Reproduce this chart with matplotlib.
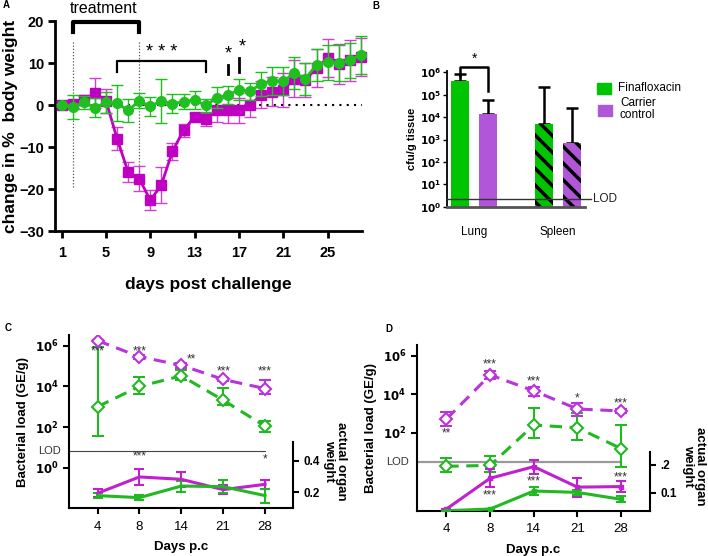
import numpy as np
import matplotlib
matplotlib.use("Agg")
import matplotlib.pyplot as plt

plt.rcParams['font.family'] = ['Liberation Sans', 'DejaVu Sans']
plt.rcParams['hatch.linewidth'] = 2.5

GREEN = '#1fbf1f'
MAG = '#c000c0'
BGREEN = '#00c400'
VIOLET = '#b155d9'
CVIOLET = '#bb33dd'

# ---- panel A: body weight
days = np.arange(1, 29)
carrier_wt = [0, 0.3, 1.2, 2.8, 1.0, -8.0, -16.0, -17.5, -22.7, -19.0, -11.0, -6.0, -2.8, -3.4,
              -1.2, -1.3, -1.3, 0.0, 2.4, 3.2, 3.6, 6.3, 6.0, 8.8, 11.2, 9.7, 10.6, 11.5]
carrier_err = [0.3, 1.0, 1.2, 3.6, 2.8, 2.7, 2.4, 3.0, 2.4, 4.3, 2.0, 1.5, 1.0, 1.6,
               2.8, 3.0, 3.0, 2.8, 3.2, 3.5, 4.0, 4.5, 4.0, 4.5, 4.5, 4.8, 4.8, 4.5]
fina_wt = [0, -0.5, 0.6, -0.6, 0.6, 0.4, -1.3, 1.0, -0.3, 1.0, 0.3, 0.8, 1.2, -0.1,
           1.7, 2.4, 3.6, 3.3, 5.0, 5.8, 5.7, 7.6, 6.3, 9.6, 10.2, 10.0, 10.6, 12.0]
fina_err = [0.3, 2.8, 1.6, 2.2, 2.5, 4.3, 2.7, 1.8, 2.3, 5.3, 2.3, 1.8, 2.2, 1.6,
            2.5, 2.2, 2.5, 2.0, 2.8, 3.3, 3.3, 3.8, 3.8, 3.8, 4.2, 4.2, 4.2, 4.5]

# ---- panel B: cfu per organ
organs = ['Lung', 'Spleen']
cfu_fina = [4.2e5, 4.7e3]
cfu_fina_top = [8e5, 2.2e5]
cfu_carrier = [1.4e4, 7e2]
cfu_carrier_top = [6e4, 2.5e4]
lod_b = 2.2

# ---- panels C and D
days_pc = ['4', '8', '14', '21', '28']
c_load_carrier = [1.8e6, 2.9e5, 1.1e5, 2.2e4, 7.8e3]
c_load_carrier_lo = [1.7e6, 2.3e5, 8e4, 1.8e4, 4e3]
c_load_carrier_hi = [1.9e6, 3.6e5, 1.4e5, 2.6e4, 2e4]
c_load_fina = [1.0e3, 1.0e4, 3.3e4, 2.1e3, 1.1e2]
c_load_fina_lo = [38, 4e3, 2e4, 1.2e3, 56]
c_load_fina_hi = [9e5, 3e4, 6.3e4, 8e3, 2e2]
c_wt_carrier = [0.194, 0.298, 0.283, 0.217, 0.251]
c_wt_carrier_err = [0.025, 0.05, 0.048, 0.03, 0.03]
c_wt_fina = [0.179, 0.166, 0.24, 0.236, 0.179]
c_wt_fina_err = [0.015, 0.015, 0.035, 0.04, 0.045]

d_load_carrier = [510, 1e5, 1.5e4, 1.7e3, 1.35e3]
d_load_carrier_lo = [220, 6.3e4, 8.5e3, 740, 1.1e3]
d_load_carrier_hi = [1.2e3, 1.6e5, 2.5e4, 3.6e3, 1.7e3]
d_load_fina = [1.8, 2.0, 250, 180, 15]
d_load_fina_lo = [0.93, 0.93, 55, 40, 1.6]
d_load_fina_hi = [4.7, 5.9, 1.9e3, 1e3, 250]
d_wt_carrier = [0.041, 0.152, 0.194, 0.12, 0.122]
d_wt_carrier_err = [0.0, 0.032, 0.025, 0.034, 0.021]
d_wt_fina = [0.035, 0.041, 0.106, 0.101, 0.076]
d_wt_fina_err = [0.0, 0.0, 0.014, 0.01, 0.011]

fig = plt.figure(figsize=(7.08, 5.56), dpi=100)

def px(x, y):
    return x / 708, 1 - y / 556

# ================= A
ax = fig.add_axes([0.0777, 0.5845, 0.4336, 0.3777])
ax.errorbar(days, carrier_wt, yerr=carrier_err, color=MAG, marker='s', ms=6.5, lw=2,
            elinewidth=1, capsize=4, ecolor='#d040d0', clip_on=False, zorder=3)
ax.errorbar(days, fina_wt, yerr=fina_err, color=GREEN, marker='o', ms=7, lw=2,
            elinewidth=1, capsize=4, clip_on=False, zorder=4)
ax.axhline(0, color='black', ls=(0, (1, 2.5)), lw=1.5, zorder=1)
ax.set_xlim(0.4, 28.1)
ax.set_ylim(-30, 20)
ax.set_xticks([1, 5, 9, 13, 17, 21, 25])
ax.set_yticks([-30, -20, -10, 0, 10, 20])
for s in ['top', 'right']:
    ax.spines[s].set_visible(False)
for s in ['left', 'bottom']:
    ax.spines[s].set_linewidth(2)
ax.tick_params(width=2, length=5, labelsize=10.5, pad=3)
ax.tick_params(axis='x', pad=6)
for lab in ax.get_xticklabels() + ax.get_yticklabels():
    lab.set_fontweight('bold')
ax.set_ylabel('change in %  body weight', fontsize=12.5, fontweight='bold', labelpad=1)
ax.set_xlabel('days post challenge', fontsize=12.5, fontweight='bold', labelpad=12)
# annotations
ax.text(4.8, 23.0, 'treatment', ha='center', va='center', fontsize=11.5, clip_on=False)
ax.plot([2, 2, 8, 8], [17.3, 19.8, 19.8, 17.3], color='black', lw=3, clip_on=False)
ax.plot([2, 2], [-19.6, 15.2], color='#555555', ls=(0, (1, 1.5)), lw=0.9)
ax.plot([8, 8], [-19.6, 15.2], color='#555555', ls=(0, (1, 1.5)), lw=0.9)
ax.plot([6, 6, 14, 14], [7.9, 10.5, 10.5, 7.9], color='black', lw=1.6)
ax.text(10, 12.6, '* * *', ha='center', va='center', fontsize=13)
ax.plot([16, 16], [7.4, 9.5], color='black', lw=2)
ax.text(16, 12.2, '*', ha='center', va='center', fontsize=13)
ax.plot([17, 17], [7.8, 11.2], color='black', lw=2)
ax.text(17.3, 13.9, '*', ha='center', va='center', fontsize=13)
fig.text(*px(3, 5), 'A', fontsize=7, fontweight='bold', va='center')

# ================= B
bx = fig.add_axes([0.631, 0.628, 0.1953, 0.2446])
pos_f = np.array([0, 3])
pos_c = pos_f + 1
w = 0.65
bx.bar(pos_f, cfu_fina, width=w, color=BGREEN, edgecolor='black', linewidth=0,
       hatch=['', '\\\\'], zorder=2)
bx.bar(pos_c, cfu_carrier, width=w, color=VIOLET, edgecolor='black', linewidth=0,
       hatch=['', '\\\\'], zorder=2)
bx.errorbar(pos_f, cfu_fina, yerr=[np.zeros(2), np.array(cfu_fina_top) - np.array(cfu_fina)],
            fmt='none', ecolor='black', elinewidth=1.8, capsize=4, capthick=1.8, zorder=1)
bx.errorbar(pos_c, cfu_carrier, yerr=[np.zeros(2), np.array(cfu_carrier_top) - np.array(cfu_carrier)],
            fmt='none', ecolor='black', elinewidth=1.8, capsize=4, capthick=1.8, zorder=1)
bx.set_yscale('log')
bx.set_ylim(1, 1.15e6)
bx.set_xlim(-0.475, 4.46)
bx.axhline(lod_b, xmin=0, xmax=1.04, color='#333333', lw=1, clip_on=False, zorder=3)
bx.text(4.75, lod_b, 'LOD', ha='left', va='center', fontsize=8.5, color='#222222')
bx.set_yticks([10.0 ** k for k in range(7)])
bx.set_yticklabels([r'$\mathbf{10^{%d}}$' % k for k in range(7)], fontsize=7.5)
bx.tick_params(axis='y', which='major', length=3, width=1, pad=1)
bx.tick_params(axis='y', which='minor', length=1.5, width=0.6)
bx.set_xticks([0.5, 3.5])
bx.set_xticklabels(organs, fontsize=8.5)
bx.tick_params(axis='x', length=0, pad=14)
for s in ['top', 'right']:
    bx.spines[s].set_visible(False)
bx.spines['left'].set_linewidth(1.3)
bx.spines['bottom'].set_linewidth(2)
bx.spines['bottom'].set_color('#555555')
bx.set_ylabel('cfu/g tissue', fontsize=8, fontweight='bold', labelpad=2)
bx.plot([0, 0, 1, 1], [7e5, 1.7e6, 1.7e6, 1.4e5], color='black', lw=1.8, clip_on=False)
bx.text(0.5, 4e6, '*', ha='center', va='center', fontsize=10)
lx, ly = px(597, 88)
fig.patches.append(plt.Rectangle((lx, ly - 0.011), 0.02, 0.02, color=BGREEN,
                                 transform=fig.transFigure, figure=fig))
fig.text(*px(618, 88), 'Finafloxacin', fontsize=8.5, va='center')
lx, ly = px(598, 110)
fig.patches.append(plt.Rectangle((lx, ly - 0.011), 0.02, 0.02, color=VIOLET,
                                 transform=fig.transFigure, figure=fig))
fig.text(*px(620, 109), 'Carrier\ncontrol', fontsize=8.5, va='center', linespacing=1.1)
fig.text(*px(372, 6), 'B', fontsize=7, fontweight='bold', va='center')


def load_panel(rect, load_c, lo_c, hi_c, load_f, lo_f, hi_f, wt_c, wt_ce, wt_f, wt_fe,
               ylim, lod, yt, twin_lim, twin_bounds, twin_ticks, twin_labels, lod_color, lod_lw,
               sq):
    a = fig.add_axes(rect)
    x = np.arange(len(days_pc))
    a.set_yscale('log')
    t = a.twinx()
    t.set_ylim(*twin_lim)
    a.errorbar(x, load_c, yerr=[np.array(load_c) - np.array(lo_c), np.array(hi_c) - np.array(load_c)],
               color=CVIOLET, ls=(0, (4, 2.5)), lw=2.2, marker='D', ms=6, mfc='white',
               mec=CVIOLET, mew=1.5, elinewidth=1.5, capsize=4, capthick=1.5, zorder=3)
    a.errorbar(x, load_f, yerr=[np.array(load_f) - np.array(lo_f), np.array(hi_f) - np.array(load_f)],
               color='#22b822', ls=(0, (4, 2.5)), lw=2.2, marker='D', ms=6, mfc='white',
               mec='#22b822', mew=1.5, elinewidth=1.5, capsize=4, capthick=1.5, zorder=3)
    a.axhline(lod, xmin=0, xmax=(4 - (-0.68)) / (4.66 + 0.68), color=lod_color, lw=lod_lw, zorder=1)
    t.errorbar(x, wt_c, yerr=wt_ce, color='#c020d0', lw=2.2, marker='s' if sq else None, ms=3.5,
               elinewidth=1.5, capsize=3.5, capthick=1.5, zorder=3)
    t.errorbar(x, wt_f, yerr=wt_fe, color='#22b822', lw=2.2, marker='s' if sq else None, ms=3.5,
               elinewidth=1.5, capsize=3.5, capthick=1.5, zorder=3)
    a.set_ylim(*ylim)
    a.set_xlim(-0.68, 4.66)
    t.set_xlim(-0.68, 4.66)
    a.set_xticks(x)
    a.set_xticklabels(days_pc, fontsize=9.5)
    a.set_yticks([10.0 ** k for k in yt])
    a.set_yticklabels([r'$\mathbf{10^{%d}}$' % k for k in yt], fontsize=8.5)
    a.yaxis.set_minor_locator(matplotlib.ticker.NullLocator())
    a.tick_params(width=1.5, length=4)
    a.tick_params(axis='x', pad=5)
    a.text(-0.035, lod, 'LOD', transform=a.get_yaxis_transform(), ha='right', va='center',
           fontsize=8, color='#333333')
    for s in ['top', 'right']:
        a.spines[s].set_visible(False)
    for s in ['left', 'bottom']:
        a.spines[s].set_linewidth(1.5)
    for s in ['top', 'left', 'bottom']:
        t.spines[s].set_visible(False)
    t.spines['right'].set_bounds(*twin_bounds)
    t.spines['right'].set_linewidth(1.5)
    t.set_yticks(twin_ticks)
    t.set_yticklabels(twin_labels, fontsize=8.5, fontweight='bold')
    t.tick_params(width=1.5, length=4)
    a.set_ylabel('Bacterial load (GE/g)', fontsize=9.5, fontweight='bold', labelpad=4)
    a.set_xlabel('Days p.c', fontsize=9.5, fontweight='bold', labelpad=6)
    return a, t


ca, ct = load_panel([0.0975, 0.0858, 0.316, 0.3117], c_load_carrier, c_load_carrier_lo,
                    c_load_carrier_hi, c_load_fina, c_load_fina_lo, c_load_fina_hi,
                    c_wt_carrier, c_wt_carrier_err, c_wt_fina, c_wt_fina_err,
                    (1e-2, 3.4e6), 7, (0, 2, 4, 6), (0.098, 1.204), (0.098, 0.52), [0.2, 0.4],
                    ['0.2', '0.4'], '#444444', 0.8, False)
for xi, yv, s in [(0, 5.5e5, '***'), (1, 5.5e5, '***'), (2.25, 2.1e5, '**'),
                  (3, 5.3e4, '***'), (4, 5.3e4, '***')]:
    ca.text(xi, yv, s, ha='center', va='center', fontsize=8.5, color='#333333')
for xi, yv, s in [(1, 0.43, '***'), (4, 0.41, '*')]:
    ct.text(xi, yv, s, ha='center', va='center', fontsize=8.5, color='#333333')
fig.text(*px(335, 461), 'actual organ\nweight', rotation=-90, ha='center', va='center',
         fontsize=9.5, fontweight='bold', linespacing=1.0)
fig.text(*px(5, 328), 'C', fontsize=7, fontweight='bold', va='center')

da, dt = load_panel([0.5886, 0.0815, 0.3295, 0.298], d_load_carrier, d_load_carrier_lo,
                    d_load_carrier_hi, d_load_fina, d_load_fina_lo, d_load_fina_hi,
                    d_wt_carrier, d_wt_carrier_err, d_wt_fina, d_wt_fina_err,
                    (8.9e-3, 3.6e6), 3, (2, 4, 6), (0.035, 0.633), (0.035, 0.248), [0.1, 0.2],
                    ['0.1', '.2'], '#999999', 1.6, True)
for xi, yv, s in [(0, 90, '**'), (1, 3.4e5, '***'), (2, 4.5e4, '***'),
                  (3, 6e3, '*'), (4, 3.2e3, '***')]:
    da.text(xi, yv, s, ha='center', va='center', fontsize=8.5, color='#333333')
for xi, yv, s in [(1, 0.09, '***'), (2, 0.142, '***'), (4, 0.154, '***')]:
    dt.text(xi, yv, s, ha='center', va='center', fontsize=8.5, color='#333333')
fig.text(*px(694, 466), 'actual organ\nweight', rotation=-90, ha='center', va='center',
         fontsize=9.5, fontweight='bold', linespacing=1.0)
fig.text(*px(385, 329), 'D', fontsize=7, fontweight='bold', va='center')

fig.savefig('out.png', dpi=100)
